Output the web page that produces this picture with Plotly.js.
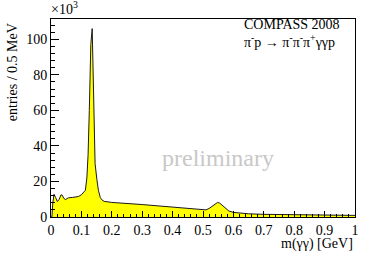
<!DOCTYPE html>
<html><head><meta charset="utf-8">
<script src="https://cdn.plot.ly/plotly-3.0.1.min.js"></script>
<style>html,body{margin:0;padding:0;background:#fff}#c{width:374px;height:253px}</style>
</head><body><div id="c"></div>
<script>
// m(gamma gamma) in GeV
const mass = [0, 0.003, 0.006, 0.010, 0.015, 0.021, 0.027, 0.033, 0.037, 0.042, 0.048, 0.057, 0.070, 0.090, 0.100, 0.106, 0.113, 0.118, 0.122, 0.126, 0.131, 0.1355, 0.139, 0.141, 0.145, 0.151, 0.156, 0.162, 0.167, 0.175, 0.200, 0.300, 0.400, 0.500, 0.510, 0.520, 0.530, 0.540, 0.548, 0.555, 0.565, 0.575, 0.585, 0.600, 0.620, 0.650, 0.700, 0.800, 0.900, 1.000];
// entries / 0.5 MeV in units of 10^3
const entries = [0, 0, 8, 12.8, 11, 8.7, 10, 12.5, 12.3, 10.5, 9.8, 10.8, 11, 11.5, 12.5, 13.5, 15, 22, 35, 60, 97, 106, 75, 45, 30, 21, 15, 11, 9.7, 8.8, 8.2, 7.0, 5.4, 3.8, 4.0, 4.8, 6.2, 7.6, 8.2, 7.8, 6.2, 4.6, 3.4, 2.6, 2.2, 1.8, 1.5, 1.2, 1.0, 0.9];
const xTicks = [0, 0.1, 0.2, 0.3, 0.4, 0.5, 0.6, 0.7, 0.8, 0.9, 1];
const yTicks = [0, 20, 40, 60, 80, 100];

const F = '"Liberation Serif", "Times New Roman", Times, serif';
const trace = {
  x: mass, y: entries, type: 'scatter', mode: 'lines',
  fill: 'tozeroy', fillcolor: '#ffff00',
  line: {color: '#1a1a1a', width: 1}, hoverinfo: 'skip'
};
const layout = {
  width: 374, height: 253,
  margin: {l: 51, r: 19, t: 19, b: 36},
  paper_bgcolor: '#fff', plot_bgcolor: '#fff',
  showlegend: false,
  font: {family: F, size: 14, color: '#000'},
  xaxis: {
    range: [0, 1], tickvals: xTicks, ticktext: xTicks.map(String),
    ticks: 'inside', ticklen: 6, tickcolor: '#000', tickwidth: 1,
    minor: {ticks: 'inside', dtick: 0.02, tick0: 0, ticklen: 3, tickcolor: '#000'},
    showline: true, linecolor: '#000', linewidth: 1, mirror: true,
    showgrid: false, zeroline: false, fixedrange: true,
    tickfont: {family: F, size: 14, color: '#000'}
  },
  yaxis: {
    range: [0, 111.4], tickvals: yTicks, ticktext: yTicks.map(String),
    ticks: 'inside', ticklen: 8, tickcolor: '#000', tickwidth: 1,
    minor: {ticks: 'inside', dtick: 4, tick0: 0, ticklen: 4, tickcolor: '#000'},
    showline: true, linecolor: '#000', linewidth: 1, mirror: true,
    showgrid: false, zeroline: false, fixedrange: true,
    tickfont: {family: F, size: 14, color: '#000'}
  },
  annotations: [
    {text: '×10<sup>3</sup>', xref: 'paper', yref: 'paper', x: -0.005, y: 1.0, xanchor: 'left', yanchor: 'bottom', showarrow: false, font: {family: F, size: 14, color: '#000'}},
    {text: 'entries / 0.5 MeV', xref: 'paper', yref: 'paper', x: -0.128, y: 0.732, xanchor: 'center', yanchor: 'middle', textangle: -90, showarrow: false, font: {family: F, size: 14, color: '#000'}},
    {text: 'm(γγ) [GeV]', xref: 'paper', yref: 'paper', x: 1.0, y: -0.135, xanchor: 'right', yanchor: 'middle', showarrow: false, font: {family: F, size: 14, color: '#000'}},
    {text: 'COMPASS 2008', xref: 'paper', yref: 'paper', x: 0.628, y: 0.973, xanchor: 'left', yanchor: 'middle', showarrow: false, font: {family: F, size: 14, color: '#000'}},
    {text: 'π<sup>-</sup>p → π<sup>-</sup>π<sup>-</sup>π<sup>+</sup>γγp', xref: 'paper', yref: 'paper', x: 0.628, y: 0.887, xanchor: 'left', yanchor: 'middle', showarrow: false, font: {family: F, size: 14, color: '#000'}},
    {text: 'preliminary', xref: 'paper', yref: 'paper', x: 0.55, y: 0.30, xanchor: 'center', yanchor: 'middle', showarrow: false, font: {family: F, size: 24, color: '#c8c8c8'}}
  ]
};
Plotly.newPlot('c', [trace], layout, {displayModeBar: false, staticPlot: true});
</script></body></html>
